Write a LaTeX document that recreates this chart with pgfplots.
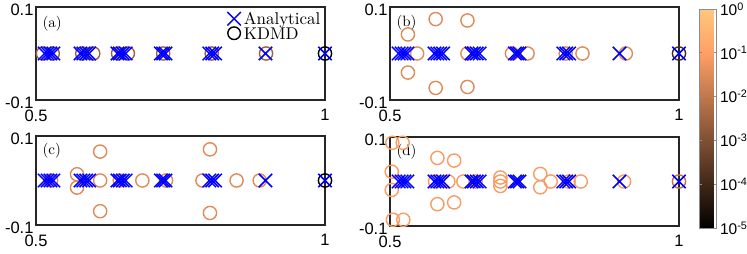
\documentclass[border=0pt]{standalone}
\usepackage{fontspec}
\usepackage{pgfplots}
\usepackage{pgfplotstable}
\pgfplotsset{compat=1.18}
\newfontfamily\hel{Liberation Sans}
\newfontfamily\lmten{lmroman10-regular}[Extension=.otf]
\definecolor{axgray}{rgb}{0.15,0.15,0.15}
% copper colormap samples
\definecolor{cA}{rgb}{0.625,0.3906,0.2488}
\definecolor{cB}{rgb}{0.875,0.5468,0.3483}
\definecolor{cD}{rgb}{0.975,0.609,0.388}
\definecolor{cB1}{rgb}{0.275,0.172,0.109}
\definecolor{cD1}{rgb}{0.725,0.453,0.289}

\pgfplotstableread{
x y
1 0
0.897 0
0.800 0
0.805 0
0.810 0
0.716 0
0.720 0
0.724 0
0.641 0
0.645 0
0.650 0
0.655 0
0.577 0
0.582 0
0.587 0
0.592 0
0.515 0
0.520 0
0.525 0
0.530 0
}\crossdata

\pgfplotstableread{
x y
0.512 0
0.529 0
0.580 0
0.599 0
0.642 0
0.659 0
0.720 0
0.804 0
0.898 0
}\circA

\pgfplotstableread{
x y
0.531 0.041
0.531 -0.041
0.579 0.074
0.579 -0.074
0.634 0.071
0.634 -0.072
0.547 0
0.634 0
0.711 0
0.738 0
0.804 0
0.833 0
0.908 0
}\circB

\pgfplotstableread{
x y
0.526 0
0.571 0.014
0.571 -0.016
0.611 0.065
0.611 -0.069
0.611 0
0.645 0
0.684 0
0.725 0
0.788 0
0.801 0.070
0.801 -0.073
0.847 0
0.887 0
}\circC

\pgfplotstableread{
x y
0.504 0.087
0.522 0.087
0.503 0.022
0.503 -0.019
0.505 -0.086
0.523 -0.086
0.582 0.053
0.611 0.047
0.582 -0.051
0.611 -0.047
0.578 0
0.601 0
0.627 0
0.648 0
0.691 0.009
0.691 0
0.691 -0.010
0.760 0.017
0.760 -0.013
0.778 0
0.809 0
0.830 0
0.905 0
}\circD

\tikzset{plab/.style={anchor=west, inner sep=0pt, font=\lmten\fontsize{15}{15}\selectfont}}

\pgfplotsset{
  copper/.style={colormap={copper}{rgb=(0,0,0) rgb=(0.25,0.15624,0.0995) rgb=(0.5,0.3125,0.199) rgb=(0.75,0.4687,0.2985) rgb=(1,0.625,0.398) rgb=(1,0.7812,0.4975)}},
  panel/.style={
    scale only axis, width=289pt,
    xmin=0.5, xmax=1, ymin=-0.1, ymax=0.1,
    xtick={0.5,1}, xticklabels={0.5,1},
    ytick={-0.1,0.1}, yticklabels={-0.1,0.1},
    tick label style={font=\hel\fontsize{16.5}{16.5}\selectfont},
    yticklabel style={xshift=1pt, yshift=-3pt},
    xticklabel style={yshift=-6pt},
    /pgf/number format/assume math mode=true,
    axis line style={axgray, line width=1.2pt},
    tick style={axgray, line width=0.8pt},
    tick align=inside, major tick length=4pt,
    clip=false,
    copper,
    point meta min=-5, point meta max=0,
  },
  circ/.style={only marks, mark=o, mark size=6.6pt, line width=1.4pt, forget plot},
  crs/.style={only marks, mark=x, mark size=9.5pt, color=blue, line width=1.5pt, forget plot},
}

\begin{document}
\begin{tikzpicture}
\useasboundingbox (0,0) rectangle (747pt,254pt);

% (a)
\begin{axis}[panel, height=93pt, at={(36pt,154pt)}, anchor=south west,
  legend style={at={(0.995,0.97)}, anchor=north east, draw=none, fill=none,
    font=\lmten\fontsize{17}{17}\selectfont, nodes={inner sep=0pt, text depth=0pt}, row sep=1.5pt,
    /tikz/every odd column/.append style={column sep=3pt}},
  legend cell align=left]
\addplot[circ, cA] table[x=x,y=y] {\circA};
\addplot[circ, black] coordinates {(1,0)};
\addplot[crs] table[x=x,y=y] {\crossdata};
\addlegendimage{only marks, mark=x, mark size=9.5pt, blue, line width=1.5pt}
\addlegendentry{Analytical}
\addlegendimage{only marks, mark=o, mark size=6.3pt, black, line width=1.4pt}
\addlegendentry{KDMD}
\node[plab] at (rel axis cs:0.022,0.82) {(a)};
\end{axis}

% (b)
\begin{axis}[panel, height=93pt, at={(390pt,154pt)}, anchor=south west,
  colorbar,
  colorbar style={
    scale only axis, width=17pt, height=219pt,
    at={(parent axis.north east)}, anchor=north west, xshift=12pt, yshift=-2pt,
    ytick={-5,-4,-3,-2,-1,0},
    yticklabels={10\textsuperscript{-5},10\textsuperscript{-4},10\textsuperscript{-3},10\textsuperscript{-2},10\textsuperscript{-1},10\textsuperscript{0}},
    yticklabel style={font=\hel\fontsize{15.5}{15.5}\selectfont, xshift=0pt},
    /pgf/number format/assume math mode=true,
    axis line style={black!45, line width=0.6pt},
    tick style={black!45, line width=0.6pt},
    tick align=inside, major tick length=2.5pt, ytick pos=both, yticklabel pos=right,
  }]
\addplot[circ, cB] table[x=x,y=y] {\circB};
\addplot[circ, cB1] coordinates {(1,0)};
\addplot[crs] table[x=x,y=y] {\crossdata};
\node[plab] at (rel axis cs:0.022,0.83) {(b)};
\end{axis}

% (c)
\begin{axis}[panel, height=89pt, at={(36pt,29pt)}, anchor=south west]
\addplot[circ, cB] table[x=x,y=y] {\circC};
\addplot[circ, black] coordinates {(1,0)};
\addplot[crs] table[x=x,y=y] {\crossdata};
\node[plab] at (rel axis cs:0.022,0.83) {(c)};
\end{axis}

% (d)
\begin{axis}[panel, height=89pt, at={(390pt,28pt)}, anchor=south west]
\addplot[circ, cD] table[x=x,y=y] {\circD};
\addplot[circ, cD1] coordinates {(1,0)};
\addplot[crs] table[x=x,y=y] {\crossdata};
\node[plab] at (rel axis cs:0.022,0.83) {(d)};
\end{axis}
\end{tikzpicture}
\end{document}
